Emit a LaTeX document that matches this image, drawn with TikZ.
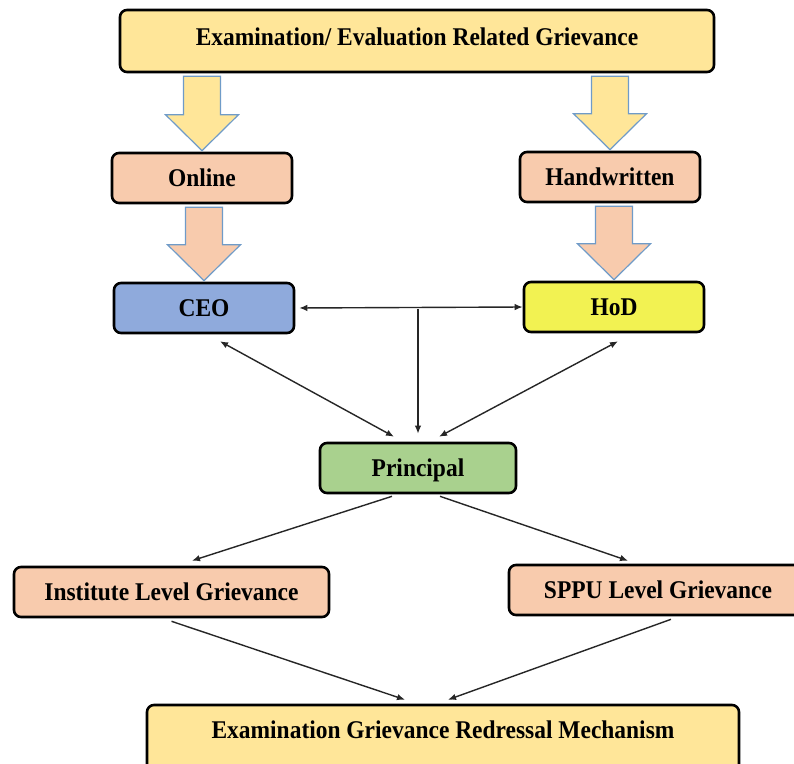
\documentclass[tikz,border=0pt]{standalone}
\usepackage{fontspec}
\setmainfont[FakeStretch=0.92]{Liberation Serif}
\usetikzlibrary{arrows.meta,calc}
\definecolor{ylw}{HTML}{FFE699}
\definecolor{org}{HTML}{F8CBAD}
\definecolor{blu}{HTML}{8FAADC}
\definecolor{hodY}{HTML}{F2F252}
\definecolor{grn}{HTML}{A9D18E}
\definecolor{arrEdge}{HTML}{6F9BC8}
\definecolor{lineC}{HTML}{262626}
\newcommand\blkarr[3]{%
  \path[blk, fill=#3] let \p1=(#2.north), \p2=(#1.south) in
    (\x1-18.5pt,\y2-3pt) -- (\x1+18.5pt,\y2-3pt) -- (\x1+18.5pt,\y1+37pt)
    -- (\x1+36.5pt,\y1+37pt) -- (\x1,\y1+1pt) -- (\x1-36.5pt,\y1+37pt)
    -- (\x1-18.5pt,\y1+37pt) -- cycle;}
\begin{document}
\begin{tikzpicture}[x=1pt,y=-1pt,
  box/.style={draw=black, line width=2.6pt, rounded corners=7pt, inner sep=0pt,
    font=\fontsize{25.5}{29}\selectfont\bfseries, text height=17pt, text depth=0pt,
    minimum height=50pt},
  blk/.style={draw=arrEdge, line width=1.2pt, line join=miter},
  conn/.style={draw=lineC, line width=1.4pt, -{Latex[length=8pt,width=6.5pt]}},
  dconn/.style={draw=lineC, line width=1.4pt, {Latex[length=8pt,width=6.5pt]}-{Latex[length=8pt,width=6.5pt]}}]
\useasboundingbox (0,0) rectangle (794,763);
\clip (0,0) rectangle (794,763);
\fill[white] (0,0) rectangle (794,763);

\node[box, fill=ylw, minimum width=594pt, minimum height=62pt, text depth=9pt] (top) at (417,41) {Examination/ Evaluation Related Grievance};
\node[box, fill=org, minimum width=180pt] (online) at (202,178) {Online};
\node[box, fill=org, minimum width=180pt] (hand) at (610,177) {Handwritten};
\node[box, fill=blu, minimum width=180pt] (ceo) at (204,308) {CEO};
\node[box, fill=hodY, minimum width=180pt] (hod) at (614,307) {HoD};
\node[box, fill=grn, minimum width=196pt] (prin) at (418,468) {Principal};
\node[box, fill=org, minimum width=315pt] (inst) at (171.5,592) {Institute Level Grievance};
\node[box, fill=org, minimum width=298pt] (sppu) at (658,590) {SPPU Level Grievance};
\node[box, fill=ylw, minimum width=592pt, minimum height=72pt, text depth=23pt] (bot) at (443,741) {Examination Grievance Redressal Mechanism};

\blkarr{top}{online}{ylw}
\blkarr{top}{hand}{ylw}
\blkarr{online}{ceo}{org}
\blkarr{hand}{hod}{org}

\coordinate (j) at (418,309);
\draw[dconn, shorten <=4pt] (ceo.east) -- (hod.west);
\draw[conn, shorten >=8pt] (j) -- (prin.north);
\draw[dconn] ([xshift=16pt,yshift=-7pt]ceo.south) -- ([xshift=-24pt,yshift=5pt]prin.north);
\draw[dconn] ([xshift=4pt,yshift=-8pt]hod.south) -- ([xshift=21pt,yshift=5pt]prin.north);
\draw[conn] ([xshift=-26pt,yshift=-2pt]prin.south) -- ([xshift=20.5pt,yshift=5pt]inst.north);
\draw[conn] ([xshift=22pt,yshift=-2pt]prin.south) -- ([xshift=-30pt,yshift=3pt]sppu.north);
\draw[conn] ([yshift=-3pt]inst.south) -- ([xshift=-38pt,yshift=4pt]bot.north);
\draw[conn] ([xshift=13pt,yshift=-3pt]sppu.south) -- ([xshift=5pt,yshift=4pt]bot.north);
\end{tikzpicture}
\end{document}
